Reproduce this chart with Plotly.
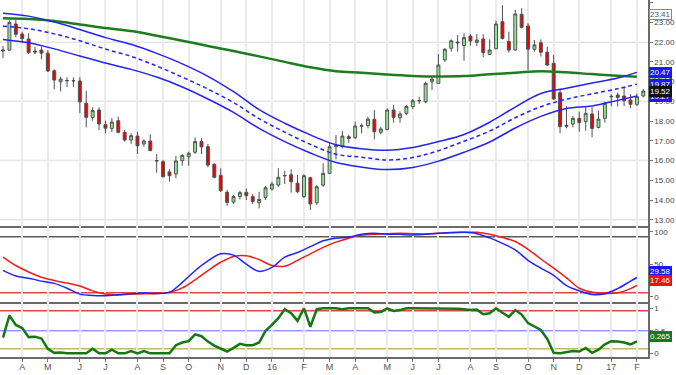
import datetime as dt
import plotly.graph_objects as go
from plotly.subplots import make_subplots

# ---------------- data ----------------
start_date = dt.date(2015, 3, 13)  # first weekly candle (Friday)

open_ = [21.55, 21.60, 22.92, 22.41, 22.16, 21.55, 21.60, 21.44, 20.55, 19.99,
         20.04, 20.06, 20.03, 18.90, 18.19, 18.56, 17.82, 17.63, 18.02, 17.43,
         17.04, 17.24, 16.84, 16.99, 16.00, 15.94, 15.42, 15.32, 15.99, 16.19,
         16.42, 16.96, 16.70, 15.81, 15.25, 14.39, 13.90, 14.17, 14.39, 14.17,
         13.86, 14.13, 14.56, 14.76, 15.22, 15.28, 14.85, 14.17, 15.13, 13.86,
         14.76, 15.35, 16.70, 16.70, 17.21, 17.16, 17.74, 17.77, 18.09, 17.43,
         17.58, 18.56, 18.17, 18.39, 18.73, 19.02, 18.98, 19.99, 19.91, 21.10,
         21.69, 22.00, 21.83, 22.31, 21.99, 22.16, 21.38, 21.67, 23.04, 22.03,
         21.60, 23.41, 22.82, 21.64, 21.97, 21.49, 20.93, 19.44, 17.73, 17.85,
         18.14, 17.97, 18.36, 17.68, 18.14, 19.23, 19.32, 19.27, 19.07, 18.85,
         19.27]
high_ = [21.80, 23.10, 23.12, 22.53, 22.45, 21.77, 21.77, 21.60, 20.62, 20.25,
         20.22, 20.22, 20.22, 19.54, 18.70, 18.70, 18.02, 18.15, 18.22, 17.55,
         17.38, 17.46, 17.07, 17.33, 16.33, 16.03, 15.56, 16.23, 16.33, 16.45,
         17.18, 17.13, 16.84, 15.86, 15.60, 14.51, 14.25, 14.47, 14.59, 14.30,
         14.42, 14.71, 14.93, 15.61, 15.49, 15.56, 15.27, 15.30, 15.18, 14.75,
         15.86, 16.90, 17.29, 17.51, 17.30, 17.97, 17.89, 18.22, 18.56, 17.70,
         18.65, 18.82, 18.50, 18.82, 19.12, 19.24, 20.00, 20.22, 21.40, 21.70,
         22.14, 22.36, 22.45, 22.41, 22.41, 22.40, 22.14, 23.09, 23.88, 22.53,
         23.63, 23.72, 22.96, 22.11, 22.14, 21.77, 21.35, 19.66, 18.76, 18.26,
         18.48, 18.70, 18.70, 18.53, 18.98, 19.36, 19.44, 19.71, 19.37, 19.40,
         19.61]
low_ = [21.20, 21.55, 22.25, 21.95, 21.40, 21.40, 21.13, 20.50, 19.61, 19.50,
        19.73, 19.73, 18.40, 17.68, 18.02, 17.55, 17.38, 17.45, 17.38, 16.96,
        16.84, 16.33, 16.70, 16.50, 15.38, 15.15, 14.93, 15.10, 15.74, 15.74,
        16.33, 16.33, 15.66, 15.10, 14.40, 13.71, 13.80, 14.03, 14.00, 13.80,
        13.58, 14.00, 14.47, 14.67, 14.81, 14.37, 14.34, 14.10, 13.49, 13.75,
        14.67, 15.32, 16.06, 16.62, 16.90, 17.09, 17.38, 17.63, 17.07, 17.33,
        17.53, 17.92, 17.92, 18.30, 18.60, 18.87, 18.90, 19.58, 19.88, 21.00,
        21.52, 21.52, 21.06, 21.82, 21.80, 21.23, 21.35, 21.64, 22.14, 21.47,
        21.57, 22.70, 20.59, 21.52, 21.27, 20.79, 19.07, 17.38, 17.63, 17.68,
        17.46, 17.51, 17.18, 17.63, 17.92, 18.76, 18.73, 18.76, 18.65, 18.76,
        19.20]
close_ = [21.60, 23.00, 22.40, 22.18, 21.47, 21.50, 21.44, 20.54, 20.08, 20.13,
          20.06, 20.04, 18.98, 18.19, 18.53, 17.85, 17.64, 17.95, 17.43, 17.04,
          17.26, 16.75, 16.99, 16.50, 15.98, 15.18, 15.23, 15.98, 16.26, 16.37,
          16.96, 16.69, 15.77, 15.15, 14.47, 13.88, 14.17, 14.37, 14.22, 13.93,
          14.03, 14.62, 14.81, 15.15, 15.24, 14.93, 14.42, 15.23, 13.80, 14.67,
          15.35, 16.70, 16.75, 17.24, 17.12, 17.75, 17.77, 18.10, 17.46, 17.60,
          18.56, 18.19, 18.36, 18.74, 19.03, 19.04, 19.91, 20.13, 20.84, 21.64,
          22.07, 21.97, 22.23, 22.06, 22.11, 21.47, 21.60, 22.92, 22.19, 21.60,
          23.43, 22.75, 21.64, 21.86, 21.49, 20.84, 19.12, 17.72, 17.77, 18.14,
          17.92, 18.39, 17.63, 18.10, 18.90, 19.25, 19.20, 19.03, 18.85, 19.24,
          19.52]

# long moving average and envelope, read every 4th week (+ last indicator week)
ma_weeks = [0, 4, 8, 12, 16, 20, 24, 28, 32, 36, 40, 44, 48, 52, 56, 60, 64,
            68, 72, 76, 80, 84, 88, 92, 96, 99]
long_ma = [23.21, 23.17, 23.07, 22.90, 22.72, 22.57, 22.33, 22.07, 21.81, 21.55,
           21.28, 21.00, 20.73, 20.53, 20.45, 20.36, 20.29, 20.26, 20.28, 20.37,
           20.45, 20.53, 20.47, 20.38, 20.30, 20.25]
band_upper = [23.47, 23.32, 23.02, 22.64, 22.23, 21.89, 21.43, 20.90, 20.27, 19.49,
              18.58, 17.89, 17.30, 16.80, 16.60, 16.52, 16.66, 16.96, 17.32, 17.94,
              18.71, 19.40, 19.66, 19.93, 20.18, 20.47]
band_mid = [22.81, 22.68, 22.42, 22.07, 21.65, 21.28, 20.79, 20.23, 19.62, 18.94,
            18.12, 17.44, 16.82, 16.32, 16.17, 16.03, 16.15, 16.50, 16.98, 17.49,
            18.17, 18.73, 19.11, 19.38, 19.64, 19.87]
band_lower = [22.14, 21.97, 21.66, 21.30, 20.94, 20.62, 20.23, 19.73, 19.12, 18.44,
              17.63, 16.96, 16.38, 15.90, 15.67, 15.54, 15.65, 15.97, 16.42, 16.94,
              17.65, 18.24, 18.64, 18.77, 19.05, 19.27]

# stochastic, read every 2nd week (+ last indicator week)
stoch_weeks = list(range(0, 100, 2)) + [99]
stoch_k = [40.5, 32, 28.5, 24, 20.5, 13, 4, 2, 1.6, 3,
           4.5, 6, 5, 7, 22, 40, 55, 66, 64, 50,
           39, 45, 61, 68, 77, 86, 90, 91.5, 96, 97.5,
           96, 96, 95, 96, 97.5, 98.7, 99, 97, 90.5, 82,
           72, 56, 44, 33, 17, 9, 3.5, 4.5, 12.5, 24, 29.58]
stoch_d = [61, 48, 38, 30, 25, 21, 16.5, 9, 4, 2.8,
           4, 4.5, 5, 6.5, 13.5, 26, 40, 53, 62, 63,
           57, 48, 47, 56, 66, 76, 84, 90, 94.5, 96,
           97, 97.5, 97, 96.5, 97.5, 98.5, 99, 99, 96, 91,
           85, 73, 58, 44, 29, 13, 7, 5, 6, 12.5, 17.46]

# third panel indicator, every week (indicator weeks 0..99)
osc = [0.35, 0.84, 0.63, 0.56, 0.36, 0.37, 0.33, 0.10, 0.01, 0.02,
       0.0, 0.0, 0.0, 0.0, 0.10, 0.0, 0.0, 0.08, 0.0, 0.0,
       0.05, 0.0, 0.05, 0.0, 0.0, 0.0, 0.0, 0.18, 0.24, 0.27,
       0.42, 0.38, 0.26, 0.17, 0.11, 0.04, 0.12, 0.21, 0.18, 0.18,
       0.24, 0.50, 0.63, 0.78, 0.98, 0.89, 0.72, 1.0, 0.59, 0.98,
       1.0, 1.0, 1.0, 0.98, 1.0, 1.0, 1.0, 1.0, 0.91, 0.92,
       1.0, 0.94, 0.96, 1.0, 1.0, 1.0, 1.0, 1.0, 1.0, 1.0,
       1.0, 0.99, 0.98, 0.96, 0.97, 0.87, 0.89, 1.0, 0.90, 0.81,
       0.96, 0.86, 0.67, 0.60, 0.52, 0.32, 0.01, 0.0, 0.02, 0.05,
       0.04, 0.12, 0.01, 0.08, 0.20, 0.27, 0.26, 0.24, 0.20, 0.265]

price_ticks = [13, 14, 15, 16, 17, 18, 19, 20, 21, 22, 23, 24]
price_grid = [13, 16, 19, 22]
stoch_ticks = [0, 50, 100]
stoch_levels = [92.3, 6.2]
osc_ticks = [0, 0.5, 1]
osc_levels = [0.947, 0.5, 0.10]
high_tag = 23.41

# ---------------- derived ----------------
dates = [start_date + dt.timedelta(weeks=i) for i in range(len(close_))]
ma_dates = [dates[i] for i in ma_weeks]
st_dates = [dates[i] for i in stoch_weeks]
osc_dates = dates[:len(osc)]

tickvals, ticktext = [], []
for i in range(1, len(dates)):
    if dates[i].month != dates[i - 1].month:
        tickvals.append(dates[i])
        m = dates[i].month
        ticktext.append(str(dates[i].year)[2:] if m == 1 else "JFMAMJJASOND"[m - 1])

FONT = "Liberation Sans, Arial, sans-serif"
BLUE = "#2323f5"
GREEN = "#1d7d1d"

fig = make_subplots(rows=3, cols=1, shared_xaxes=True, vertical_spacing=0,
                    row_heights=[226 / 357, 76 / 357, 55 / 357])

fig.add_trace(go.Candlestick(
    x=dates, open=open_, high=high_, low=low_, close=close_,
    increasing=dict(fillcolor="#8ee68e", line=dict(color="#505050", width=1)),
    decreasing=dict(fillcolor="#f00000", line=dict(color="#505050", width=1)),
    showlegend=False, hoverinfo="skip"), row=1, col=1)

fig.add_trace(go.Scatter(x=ma_dates, y=long_ma, mode="lines", line_shape="spline",
                         line=dict(color=GREEN, width=2.5), showlegend=False), row=1, col=1)
fig.add_trace(go.Scatter(x=ma_dates, y=band_upper, mode="lines", line_shape="spline",
                         line=dict(color=BLUE, width=1.5), showlegend=False), row=1, col=1)
fig.add_trace(go.Scatter(x=ma_dates, y=band_mid, mode="lines", line_shape="spline",
                         line=dict(color=BLUE, width=1.5, dash="4px,3px"), showlegend=False), row=1, col=1)
fig.add_trace(go.Scatter(x=ma_dates, y=band_lower, mode="lines", line_shape="spline",
                         line=dict(color=BLUE, width=1.5), showlegend=False), row=1, col=1)

fig.add_trace(go.Scatter(x=st_dates, y=stoch_d, mode="lines", line_shape="spline",
                         line=dict(color="#f21c1c", width=1.5), showlegend=False), row=2, col=1)
fig.add_trace(go.Scatter(x=st_dates, y=stoch_k, mode="lines", line_shape="spline",
                         line=dict(color=BLUE, width=1.5), showlegend=False), row=2, col=1)

fig.add_trace(go.Scatter(x=osc_dates, y=osc, mode="lines",
                         line=dict(color="#157815", width=2.5), showlegend=False), row=3, col=1)

# gridlines and reference levels
shapes = []
for g in price_grid:
    shapes.append(dict(type="line", xref="x domain", yref="y", x0=0, x1=1, y0=g, y1=g,
                       line=dict(color="#e6e6e6", width=1.5), layer="below"))
shapes.append(dict(type="line", xref="x2 domain", yref="y2", x0=0, x1=1,
                   y0=stoch_levels[0], y1=stoch_levels[0], line=dict(color="#5a5a5a", width=1.5), layer="below"))
shapes.append(dict(type="line", xref="x2 domain", yref="y2", x0=0, x1=1,
                   y0=stoch_levels[1], y1=stoch_levels[1], line=dict(color="#d84848", width=1.5), layer="below"))
osc_cols = ["#d84848", "#6767ff", "#c2b66a"]
osc_w = [1.5, 1, 1.5]
for lv, c, w in zip(osc_levels, osc_cols, osc_w):
    shapes.append(dict(type="line", xref="x3 domain", yref="y3", x0=0, x1=1, y0=lv, y1=lv,
                       line=dict(color=c, width=w), layer="below"))

xax = dict(range=["2015-03-09 17:00", "2017-02-15 03:00"], tickvals=tickvals, ticktext=ticktext,
           showgrid=True, gridcolor="#ebebeb", gridwidth=1.5, showline=True, linecolor="#6a6a6a",
           linewidth=1.5, zeroline=False, rangeslider=dict(visible=False), fixedrange=True)
fig.update_xaxes(**xax)
fig.update_xaxes(showticklabels=False, ticks="", row=1, col=1)
fig.update_xaxes(showticklabels=False, ticks="", row=2, col=1)
fig.update_xaxes(showticklabels=True, ticks="outside", ticklen=3, tickcolor="#777",
                 ticklabelstandoff=-3,
                 tickfont=dict(family=FONT, size=9, color="#555"), row=3, col=1)

yax = dict(side="right", showgrid=False, zeroline=False, showline=True, linecolor="#6a6a6a",
           linewidth=1.5, ticks="outside", ticklen=3, tickcolor="#777",
           tickfont=dict(family=FONT, size=8, color="#444"), fixedrange=True)
fig.update_yaxes(**yax)
fig.update_yaxes(range=[12.682, 24.137], tickvals=price_ticks,
                 ticktext=[f"{v:.2f}" for v in price_ticks], row=1, col=1)
fig.update_yaxes(range=[-8.15, 108.8], tickvals=stoch_ticks,
                 ticktext=[str(v) for v in stoch_ticks], row=2, col=1)
fig.update_yaxes(range=[-0.082, 1.14], tickvals=osc_ticks,
                 ticktext=["0", "0.5", "1"], row=3, col=1)

# value tags at right
def tag(y, yref, text, bg, fg="white", border=None, yshift=0):
    return dict(xref="paper", x=1.0, xanchor="left", xshift=1, yref=yref, y=y, yanchor="middle",
                yshift=yshift, text=text, showarrow=False, bgcolor=bg,
                bordercolor=border or bg, borderwidth=1, borderpad=0,
                font=dict(family=FONT, size=8, color=fg))

ann = [
    tag(high_tag, "y", f"{high_tag:.2f}", "white", fg="#555", border="#888"),
    tag(long_ma[-1], "y", f"{long_ma[-1]:.2f}", "#177a17"),
    tag(band_lower[-1], "y", f"{band_lower[-1]:.2f}", "#1a1af0"),
    tag(band_upper[-1], "y", f"{band_upper[-1]:.2f}", "#1a1af0"),
    tag(band_mid[-1], "y", f"{band_mid[-1]:.2f}", "#1a1af0"),
    tag(close_[-1], "y", f"{close_[-1]:.2f}", "#111111"),
    tag(stoch_k[-1], "y2", f"{stoch_k[-1]:.2f}", "#1a1af0", yshift=6),
    tag(stoch_d[-1], "y2", f"{stoch_d[-1]:.2f}", "#ee1111", yshift=5),
    tag(osc[-1], "y3", f"{osc[-1]:.3f}", "#177a17", yshift=5),
]

fig.update_layout(width=676, height=375, margin=dict(l=0, r=28, t=0, b=18),
                  paper_bgcolor="white", plot_bgcolor="white", showlegend=False,
                  shapes=shapes, annotations=ann, boxgap=0.35, hovermode=False)

fig.write_html("out.html", config={"displayModeBar": False},
               post_script="document.body.style.margin='0';document.body.style.overflow='hidden';")
